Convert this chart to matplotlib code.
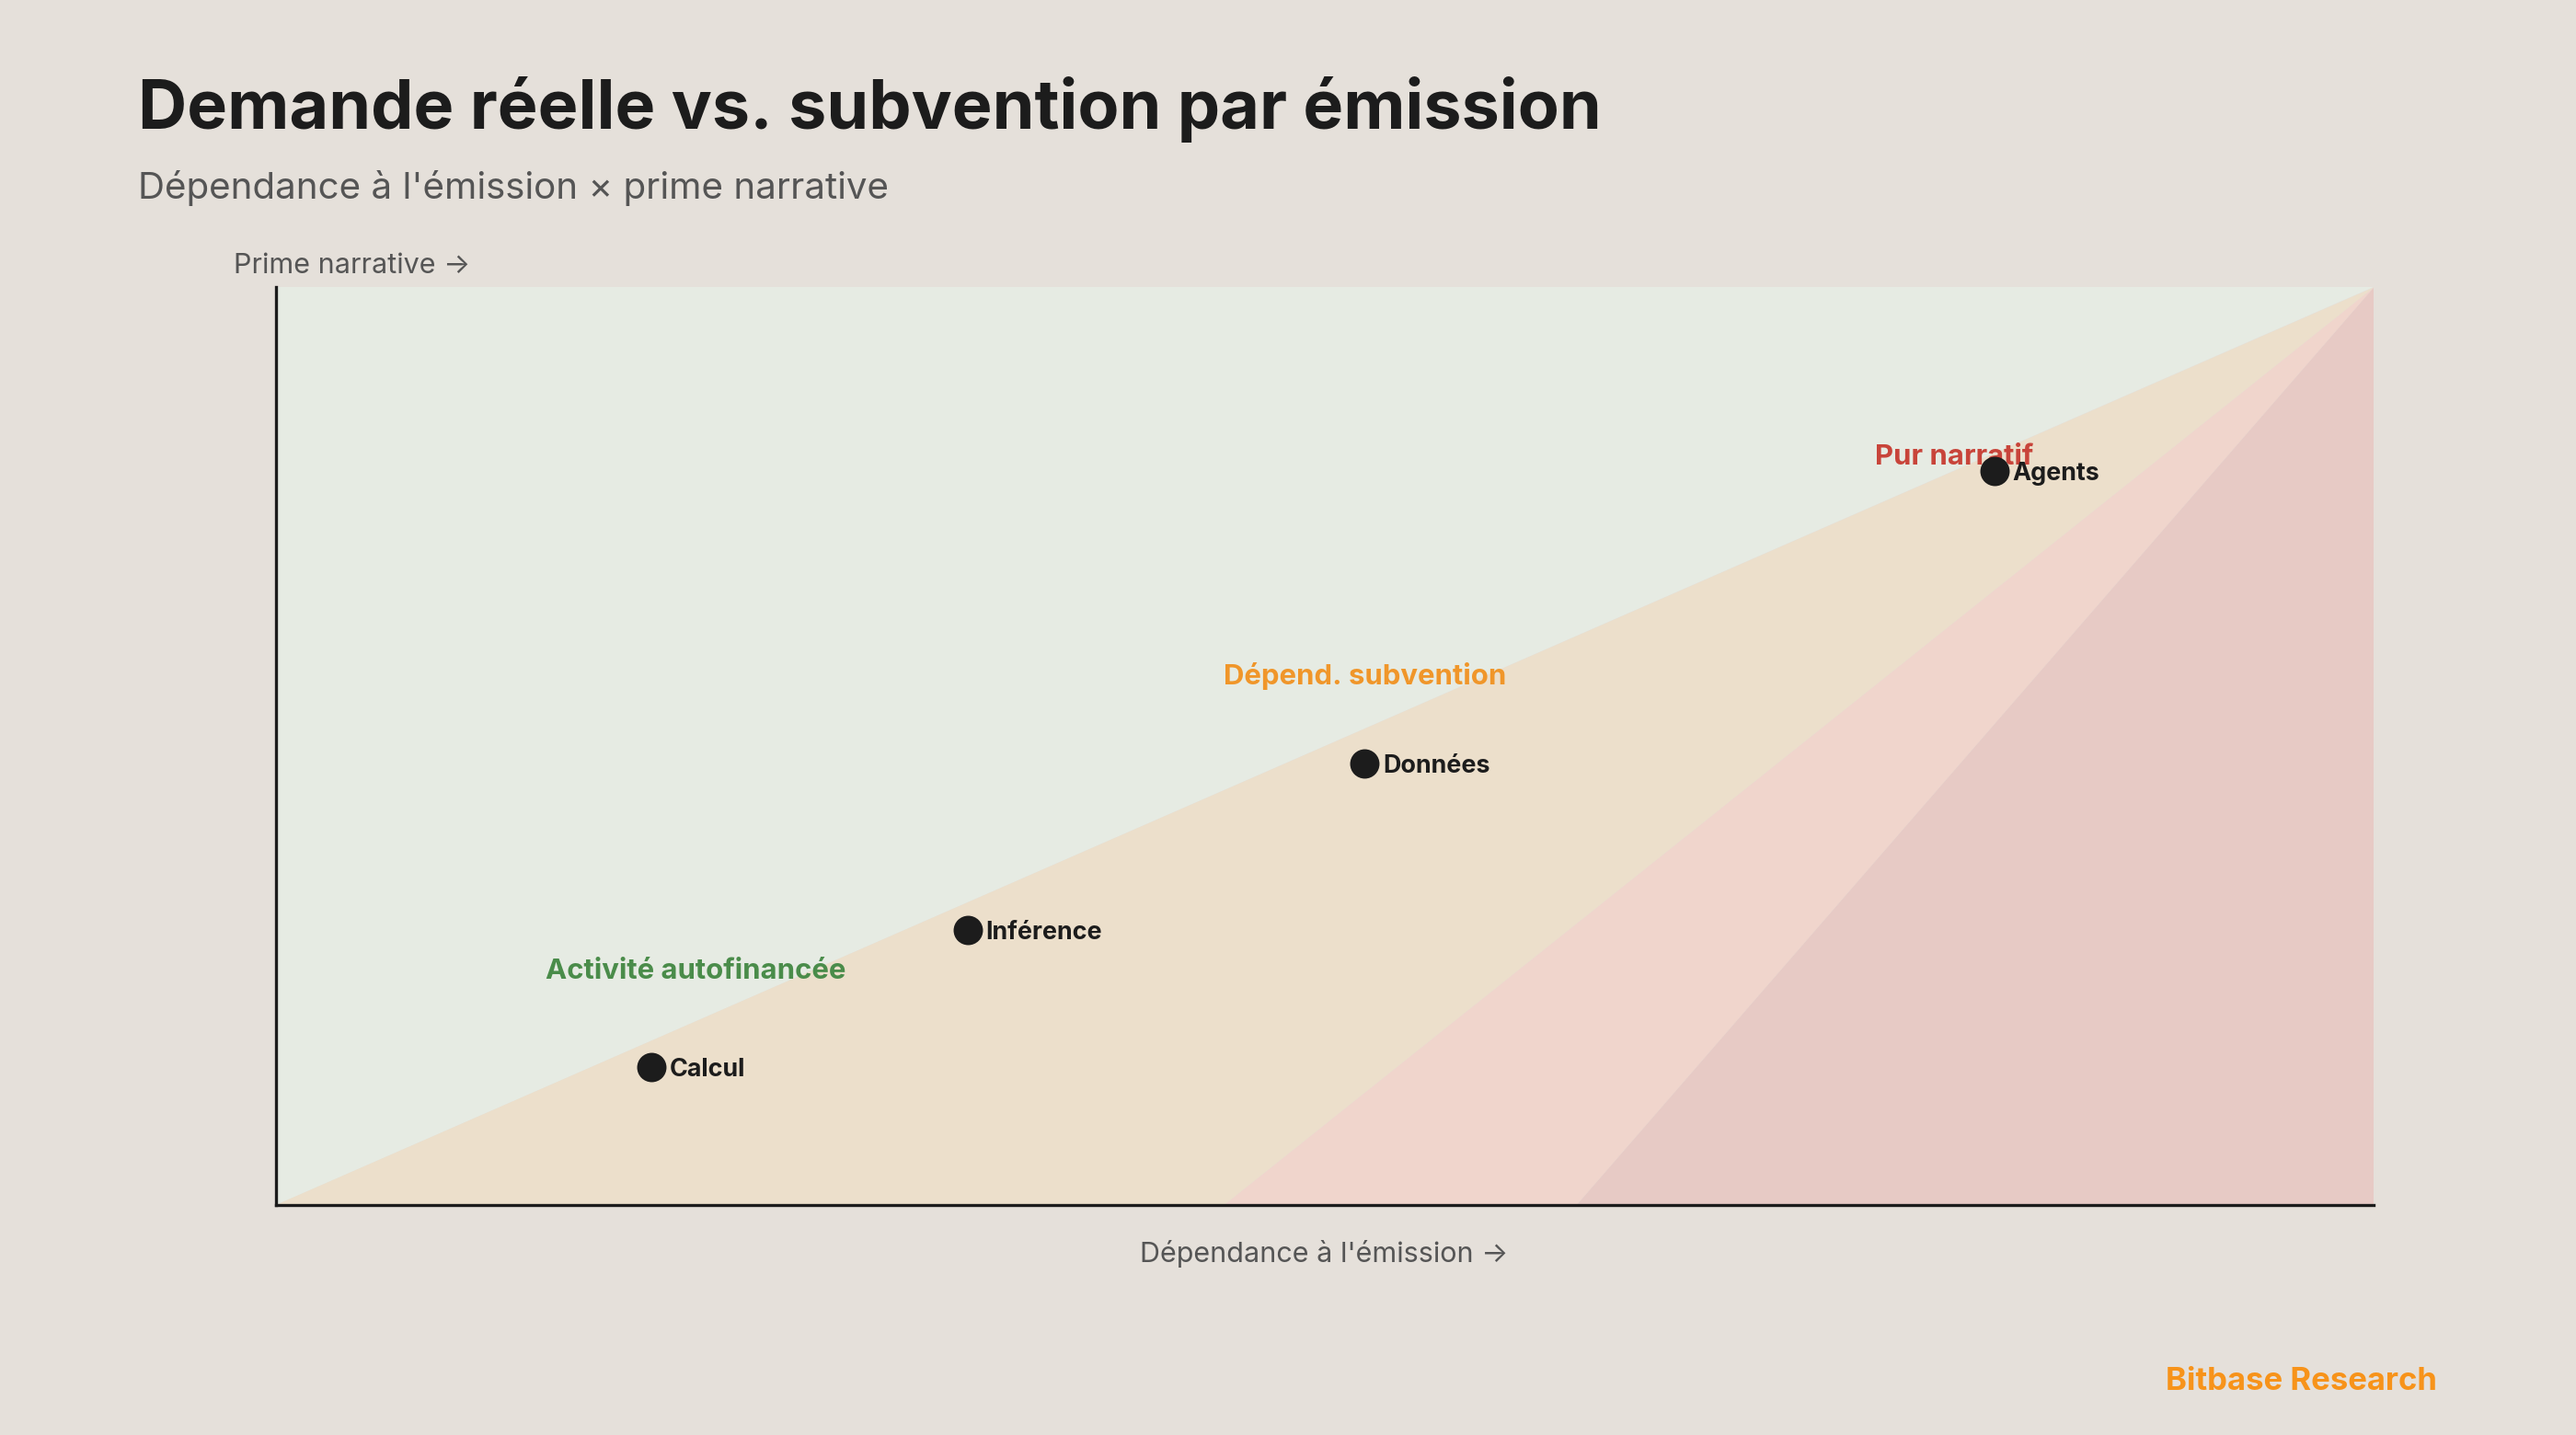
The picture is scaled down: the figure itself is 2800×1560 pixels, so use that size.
import matplotlib
matplotlib.use("Agg")
from matplotlib import pyplot as plt

# segments and positions (emission dependency, narrative premium)
names = ["Calcul", "Inférence", "Données", "Agents"]
emission = [0.179, 0.330, 0.519, 0.819]
narrative = [0.150, 0.300, 0.481, 0.800]

zone_labels = ["Activité autofinancée", "Dépend. subvention", "Pur narratif"]
zone_x = [0.200, 0.519, 0.800]
zone_y = [0.255, 0.576, 0.815]
zone_colors = ["#4A8C4A", "#F0962A", "#C8443A"]

# x-intercepts of boundary lines meeting at (1, 1)
bounds = [0.0, 0.452, 0.62]

bg = "#E5E0DA"
plt.rcParams["font.family"] = ["Inter", "DejaVu Sans"]

fig = plt.figure(figsize=(14, 7.8), dpi=200, facecolor=bg)
ax = fig.add_axes([0.107, 0.1602, 0.8146, 0.6396])
ax.set_facecolor(bg)
ax.set_xlim(0, 1)
ax.set_ylim(0, 1)

ax.fill([0, 0, 1], [0, 1, 1], color="#E6EBE3", lw=0)
ax.fill([bounds[0], 1, bounds[1]], [0, 1, 0], color="#ECDFCB", lw=0)
ax.fill([bounds[1], 1, bounds[2]], [0, 1, 0], color="#F0D5CC", lw=0)
ax.fill([bounds[2], 1, 1], [0, 1, 0], color="#E7CAC5", lw=0)

ax.scatter(emission, narrative, s=110, color="#1C1C1C", zorder=3)
for n, x, y in zip(names, emission, narrative):
    ax.annotate(n, (x, y), xytext=(7, -1), textcoords="offset points",
                va="center", fontsize=9.7, fontweight="bold", color="#1C1C1C", zorder=4)

for t, x, y, c in zip(zone_labels, zone_x, zone_y, zone_colors):
    ax.text(x, y, t, ha="center", va="center", fontsize=11.2, fontweight="bold", color=c, zorder=2)

for s in ["top", "right"]:
    ax.spines[s].set_visible(False)
for s in ["left", "bottom"]:
    ax.spines[s].set_color("#1C1C1C")
    ax.spines[s].set_linewidth(1.2)
ax.set_xticks([])
ax.set_yticks([])

fig.text(0.0536, 0.924, "Demande réelle vs. subvention par émission", fontsize=26.5,
         fontweight="bold", color="#1C1C1C", va="center")
fig.text(0.0536, 0.869, "Dépendance à l'émission × prime narrative", fontsize=14.5,
         color="#555555", va="center")
fig.text(0.0906, 0.815, "Prime narrative →", fontsize=11, color="#555555", va="center")
fig.text(0.514, 0.126, "Dépendance à l'émission →", fontsize=11, color="#555555",
         va="center", ha="center")
fig.text(0.946, 0.037, "Bitbase Research", fontsize=12.5, fontweight="bold",
         color="#F7931A", va="center", ha="right")

fig.savefig("out.png", facecolor=bg)
